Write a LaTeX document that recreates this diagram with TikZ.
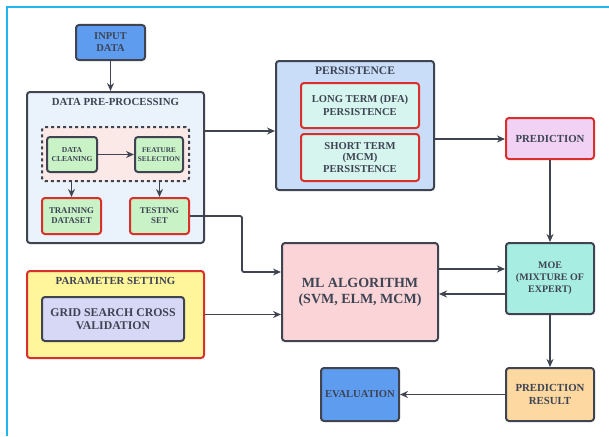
\documentclass[tikz,border=0pt]{standalone}
\usepackage{fontspec}
\setmainfont{Liberation Serif}
\usetikzlibrary{arrows.meta}
\definecolor{txt}{HTML}{3D4453}
\definecolor{edge}{HTML}{3F4450}
\definecolor{redb}{HTML}{D9302C}
\definecolor{frame}{HTML}{1FB6F0}
\definecolor{blueF}{HTML}{5E9CF0}
\definecolor{prepF}{HTML}{EAF2FC}
\definecolor{dashF}{HTML}{FBE9E7}
\definecolor{greenF}{HTML}{C9F2C7}
\definecolor{persF}{HTML}{C9DDF8}
\definecolor{mintF}{HTML}{D6F5EE}
\definecolor{predF}{HTML}{F1D2F5}
\definecolor{mlF}{HTML}{FAD4D6}
\definecolor{moeF}{HTML}{A8EDE2}
\definecolor{presF}{HTML}{FDD8A0}
\definecolor{paramF}{HTML}{FFF59A}
\definecolor{gridF}{HTML}{D7D8F6}
\tikzset{
  box/.style={draw=edge, line width=2pt, rounded corners=3pt, align=center,
    text=txt, font=\bfseries, inner sep=1pt},
  redbox/.style={box, draw=redb},
  arr/.style={draw=edge, line width=1.8pt, -{Stealth[length=8pt,width=7pt]}},
  ttl/.style={text=txt, font=\bfseries\fontsize{10.8}{12}\selectfont},
}
\begin{document}
\begin{tikzpicture}[x=1pt,y=-1pt]
\useasboundingbox (0,0) rectangle (609,436);
\fill[white] (0,0) rectangle (609,436);
\draw[frame, line width=2.5pt] (7,436) -- (7,7) -- (609,7);
% data pre-processing
\node[box, fill=blueF, minimum width=69, minimum height=35, font=\bfseries\fontsize{10.5}{12}\selectfont] (input) at (110.5,42.5) {INPUT\\DATA};
\node[box, fill=prepF, minimum width=177, minimum height=151] (prep) at (115.5,167.5) {};
\node[ttl] (preptitle) at (115.5,102) {DATA PRE-PROCESSING};
\node[draw=edge, dashed, line width=2pt, rounded corners=3pt, fill=dashF, minimum width=147, minimum height=54] (dash) at (115.5,154) {};
\node[box, fill=greenF, minimum width=50, minimum height=35, font=\bfseries\fontsize{7.6}{9}\selectfont] (clean) at (72,154.5) {DATA\\CLEANING};
\node[box, fill=greenF, minimum width=48, minimum height=35, font=\bfseries\fontsize{7.2}{9}\selectfont] (feat) at (159,154.5) {FEATURE\\SELECTION};
\node[redbox, fill=greenF, minimum width=59, minimum height=36, font=\bfseries\fontsize{8.8}{10}\selectfont] (train) at (71.5,216) {TRAINING\\DATASET};
\node[redbox, fill=greenF, minimum width=59, minimum height=36, font=\bfseries\fontsize{8.8}{10}\selectfont] (test) at (159.5,216) {TESTING\\SET};
% persistence
\node[box, fill=persF, minimum width=158, minimum height=129] (pers) at (355,125.5) {};
\node[ttl, font=\bfseries\fontsize{11.5}{13}\selectfont] (perstitle) at (355,71) {PERSISTENCE};
\node[redbox, fill=mintF, minimum width=118, minimum height=45, font=\bfseries\fontsize{10.6}{12.5}\selectfont] (long) at (360,105.5) {LONG TERM (DFA)\\PERSISTENCE};
\node[redbox, fill=mintF, minimum width=118, minimum height=47, font=\bfseries\fontsize{10.6}{11.8}\selectfont] (short) at (360,157.5) {SHORT TERM\\(MCM)\\PERSISTENCE};
\node[redbox, fill=predF, minimum width=88, minimum height=41, font=\bfseries\fontsize{10.8}{12}\selectfont] (pred) at (550,138.5) {PREDICTION};
% ML
\node[box, fill=mlF, minimum width=156, minimum height=98, font=\bfseries\fontsize{14}{16}\selectfont] (ml) at (360,292) {ML ALGORITHM\\(SVM, ELM, MCM)};
\node[box, fill=moeF, minimum width=88, minimum height=71, font=\bfseries\fontsize{10}{12}\selectfont] (moe) at (550,278.5) {MOE\\(MIXTURE OF\\EXPERT)};
\node[box, fill=presF, minimum width=88, minimum height=53, font=\bfseries\fontsize{10.8}{12.5}\selectfont] (pres) at (550,394.5) {PREDICTION\\RESULT};
\node[box, fill=blueF, minimum width=78, minimum height=53, font=\bfseries\fontsize{10.6}{12}\selectfont] (eval) at (360,394.5) {EVALUATION};
% parameter setting
\node[redbox, fill=paramF, minimum width=177, minimum height=87] (param) at (115.5,314.5) {};
\node[ttl] (paramtitle) at (115.5,281) {PARAMETER SETTING};
\node[box, fill=gridF, minimum width=142, minimum height=44, font=\bfseries\fontsize{11.8}{13.5}\selectfont] (grid) at (113,319) {GRID SEARCH CROSS\\VALIDATION};
% connectors
\draw[arr] (input.south) -- (input.south |- prep.north);
\draw[arr] (prep.east |- 0,131) -- (pers.west |- 0,131);
\draw[arr] (clean.east) -- (feat.west);
\draw[arr] (train.north |- dash.south) -- (train.north);
\draw[arr] (test.north |- dash.south) -- (test.north);
\draw[arr] (pers.east |- 0,139) -- (pred.west |- 0,139);
\draw[arr] (pred.south) -- (moe.north);
\coordinate (bend) at (242,272);
\draw[arr, rounded corners=2pt] (test.east) -| (bend) -- (ml.west |- bend);
\draw[arr] (param.east) -- (ml.west |- param.east);
\draw[arr] (ml.east |- 0,269) -- (moe.west |- 0,269);
\draw[arr] (moe.west |- 0,294) -- (ml.east |- 0,294);
\draw[arr] (moe.south) -- (pres.north);
\draw[arr] (pres.west) -- (eval.east);
\end{tikzpicture}
\end{document}
